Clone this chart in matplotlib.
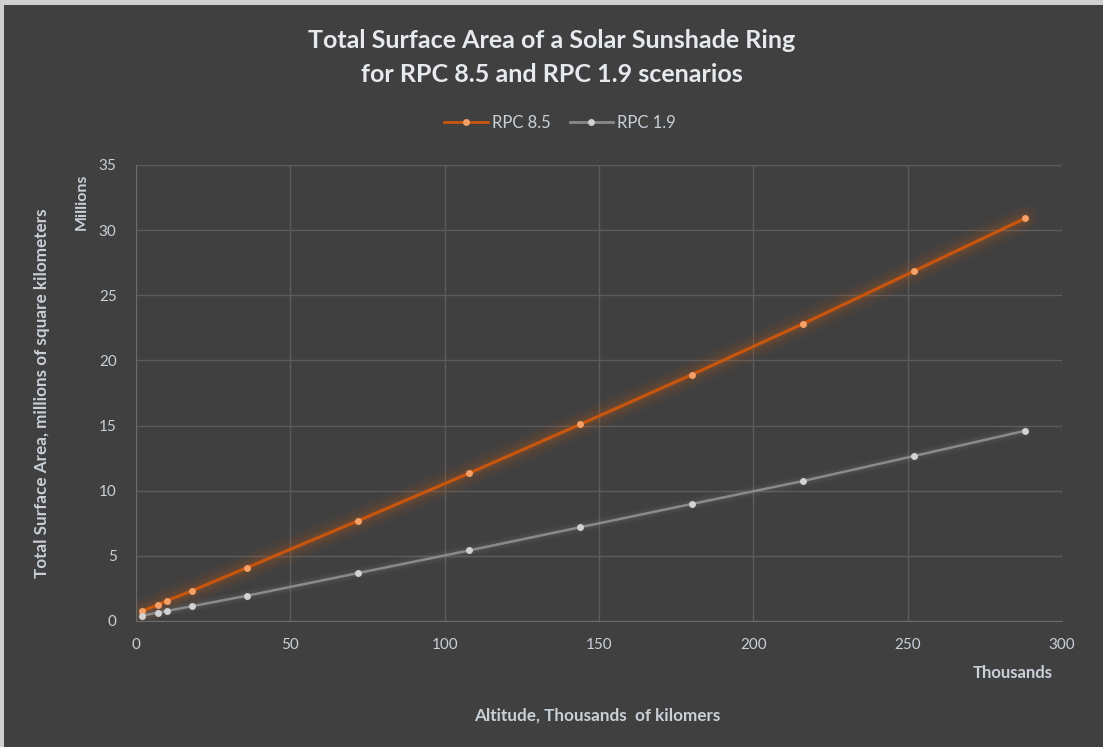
import numpy as np
import matplotlib.pyplot as plt
from matplotlib.patches import Rectangle
from matplotlib.lines import Line2D

# altitude, thousands of km
altitude = [2, 7, 10, 18, 36, 72, 108, 144, 180, 216, 252, 288]
# surface area, millions of km^2
rpc85 = [0.77, 1.23, 1.56, 2.3, 4.1, 7.7, 11.35, 15.1, 18.9, 22.8, 26.85, 30.9]
rpc19 = [0.41, 0.64, 0.77, 1.13, 1.94, 3.68, 5.42, 7.2, 8.98, 10.74, 12.66, 14.6]

bg = '#404040'
txt = '#c9d0d8'
plt.rcParams['font.family'] = ['Lato', 'DejaVu Sans']

fig = plt.figure(figsize=(11.03, 7.47), dpi=100, facecolor='#cfcfcf')
# dark panel with thin light border at top/left
fig.patches.append(Rectangle((4 / 1103, 0), 1, 1 - 5 / 747, transform=fig.transFigure,
                             facecolor=bg, edgecolor='none', zorder=-10))

ax = fig.add_axes([136 / 1103, 1 - 621 / 747, (1062 - 136) / 1103, (621 - 165) / 747])
ax.set_facecolor(bg)

x = np.array(altitude)
# glow
for lw, a in [(20, 0.035), (15, 0.05), (10, 0.07), (6, 0.1)]:
    ax.plot(x, rpc85, color='#e0600a', lw=lw, alpha=a, solid_capstyle='round', zorder=2)
for lw, a in [(8, 0.04), (5, 0.06)]:
    ax.plot(x, rpc19, color='#bbbbbb', lw=lw, alpha=a, solid_capstyle='round', zorder=2)
ax.plot(x, rpc85, color='#c8560f', lw=2.2, zorder=3)
ax.plot(x, rpc19, color='#8a8a8a', lw=1.8, zorder=3)
ax.plot(x, rpc85, 'o', color='#f4a066', ms=5, mec='none', zorder=4)
ax.plot(x, rpc19, 'o', color='#d2d2d2', ms=5, mec='none', zorder=4)

ax.set_xlim(0, 300)
ax.set_ylim(0, 35)
ax.set_xticks(np.arange(0, 301, 50))
ax.set_yticks(np.arange(0, 36, 5))
ax.grid(True, color='#5c5c5c', lw=1)
ax.set_axisbelow(True)
for s in ['top', 'right']:
    ax.spines[s].set_visible(False)
for s in ['left', 'bottom']:
    ax.spines[s].set_color('#6a6a6a')
ax.tick_params(length=0, colors=txt, labelsize=11, pad=12)
ax.tick_params(axis='y', pad=14)

fig.text(0.5, 1 - 40 / 747, 'Total Surface Area of a Solar Sunshade Ring', ha='center', va='center',
         color='#e6e9ee', fontsize=18, fontweight='bold')
fig.text(0.5, 1 - 74 / 747, 'for RPC 8.5 and RPC 1.9 scenarios', ha='center', va='center',
         color='#e6e9ee', fontsize=18, fontweight='bold')

handles = [Line2D([], [], color='#c8560f', lw=2, marker='o', mfc='#f4a066', mec='none', ms=5),
           Line2D([], [], color='#8a8a8a', lw=2, marker='o', mfc='#d2d2d2', mec='none', ms=5)]
leg = fig.legend(handles, ['RPC 8.5', 'RPC 1.9'], loc='center', bbox_to_anchor=(560 / 1103, 1 - 123 / 747),
                 ncol=2, frameon=False, fontsize=12, labelcolor=txt, handlelength=2.6,
                 handletextpad=0.25, columnspacing=1.15)

fig.text(42 / 1103, 1 - 393 / 747, 'Total Surface Area, millions of square kilometers', rotation=90,
         ha='center', va='center', color=txt, fontsize=12.3, fontweight='bold')
fig.text(82 / 1103, 1 - 202 / 747, 'Millions', rotation=90, ha='center', va='center',
         color=txt, fontsize=11.5, fontweight='bold')
fig.text(1013 / 1103, 1 - 673 / 747, 'Thousands', ha='center', va='center',
         color=txt, fontsize=12, fontweight='bold')
fig.text(597 / 1103, 1 - 716 / 747, 'Altitude, Thousands  of kilomers', ha='center', va='center',
         color=txt, fontsize=12.3, fontweight='bold')

fig.savefig('out.png', dpi=100, facecolor=fig.get_facecolor())
